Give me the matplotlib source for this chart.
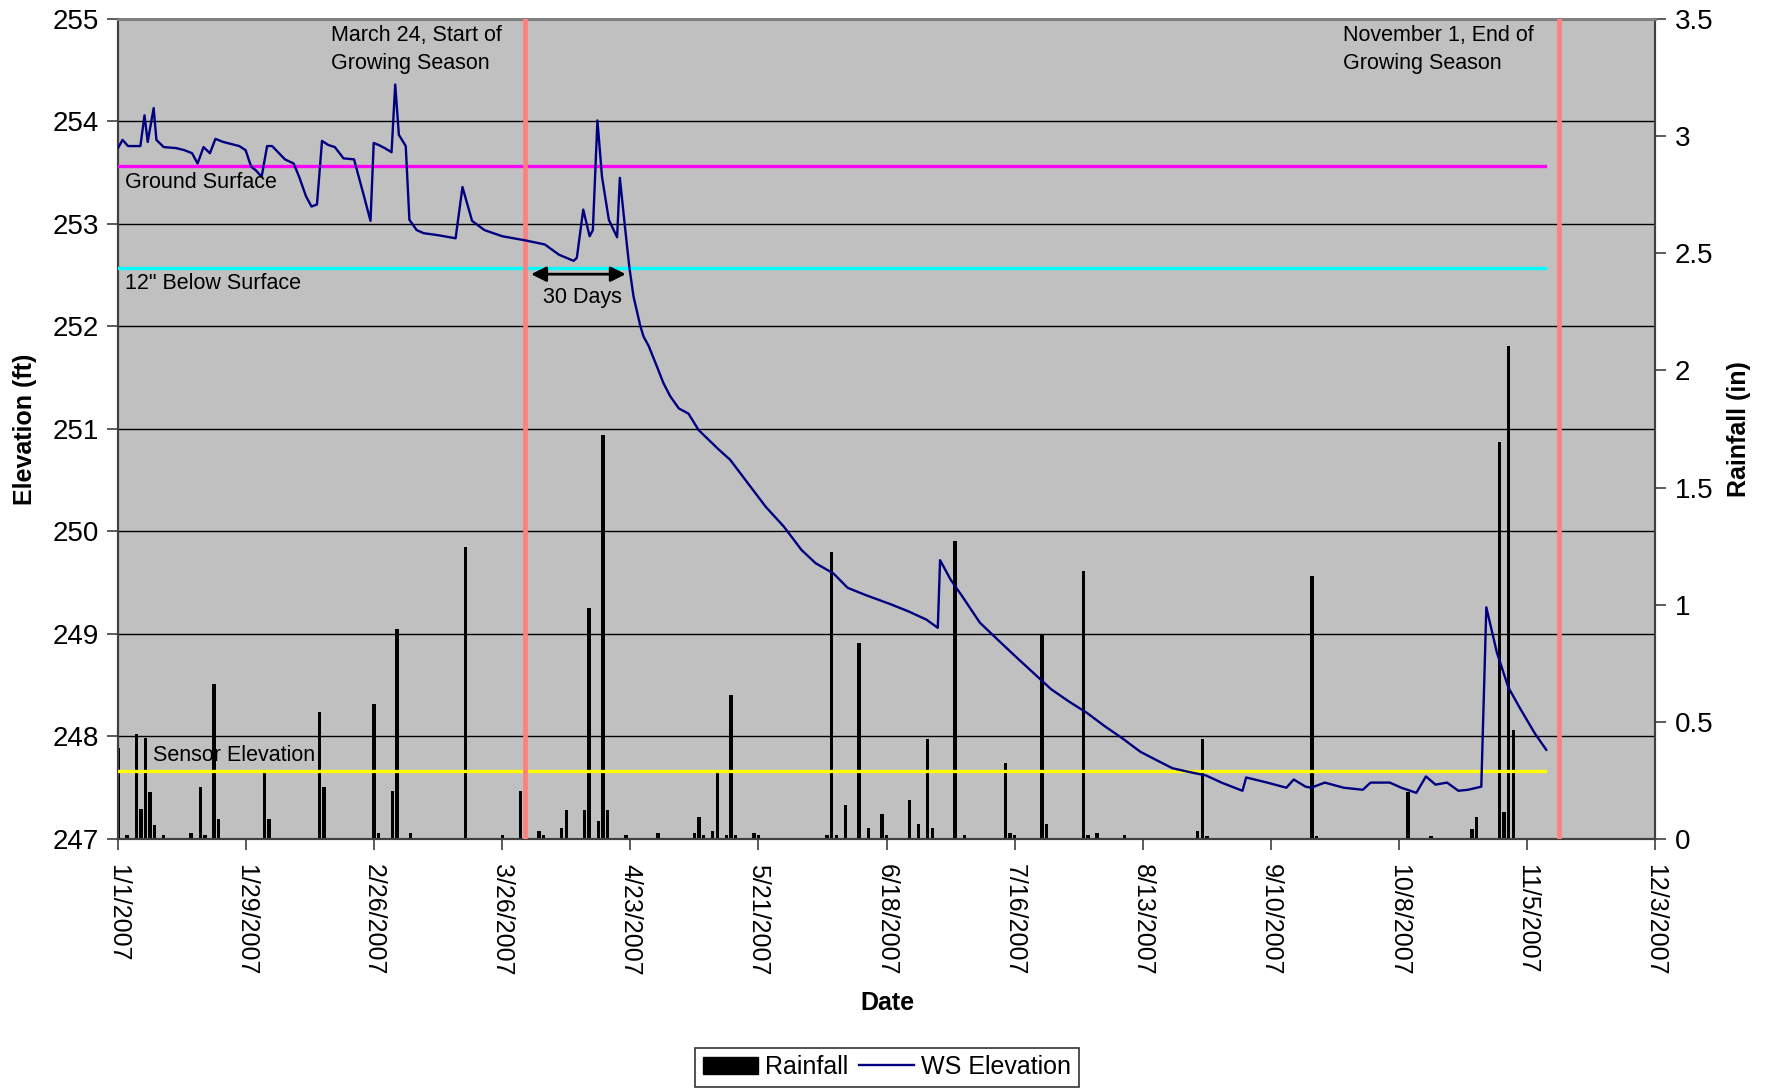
import matplotlib
matplotlib.use('Agg')
import matplotlib.pyplot as plt
from matplotlib.patches import Patch
from matplotlib.lines import Line2D

plt.rcParams['font.family'] = ['Liberation Sans', 'DejaVu Sans']

# ---------------- data (days since 1/1/2007) ----------------
tick_days = [0, 28, 56, 84, 112, 140, 168, 196, 224, 252, 280, 308, 336]
tick_labels = ["1/1/2007", "1/29/2007", "2/26/2007", "3/26/2007", "4/23/2007",
               "5/21/2007", "6/18/2007", "7/16/2007", "8/13/2007", "9/10/2007",
               "10/8/2007", "11/5/2007", "12/3/2007"]

ws_day = [0, 1, 2.2, 4.9, 5.8, 6.5, 7.8, 8.4, 10, 12.7, 14.5, 16.2, 17.4, 18.7, 20.1,
          21.3, 23, 24.8, 26.5, 27.9, 29.1, 30.2, 31.4, 32.6, 33.7, 35, 36.5, 38.4,
          39.6, 41.1, 42.3, 43.5, 44.6, 46, 47.4, 49.3, 51.6, 53.6, 55.2, 55.9, 57,
          58.3, 59.8, 60.6, 61.4, 62.9, 63.7, 65.3, 66.8, 70, 73.8, 75.3, 77.4, 80.1,
          84, 89, 93.3, 96.4, 99.6, 100.3, 101.7, 103.1, 103.8, 104.8, 105.8, 107.3,
          109.1, 109.7, 110.8, 111.8, 112.7, 114.2, 114.9, 116, 117.8, 119.2, 120.7,
          122.6, 124.7, 126.9, 129, 131.3, 133.8, 137.7, 141.6, 145.5, 149.4, 152.5,
          156.4, 159.5, 163.4, 168.9, 172.8, 176.7, 179.2, 179.7, 182, 184.5, 188.4,
          192.4, 196.2, 200.1, 204, 207.9, 211.8, 215.7, 219.6, 223.5, 227.4, 230.5,
          234.5, 237.8, 241.2, 245.8, 246.6, 251.2, 255.4, 257, 259.6, 260.8, 263.8,
          267.9, 272.1, 273.8, 278, 280.5, 283.8, 285.9, 288, 290.5, 293, 295.1, 298,
          299.1, 301.4, 303.9, 306.4, 309.7, 312.2]
ws_elev = [253.74, 253.82, 253.76, 253.76, 254.06, 253.80, 254.13, 253.82, 253.75,
           253.74, 253.72, 253.69, 253.59, 253.75, 253.69, 253.83, 253.80, 253.78,
           253.76, 253.72, 253.56, 253.52, 253.46, 253.76, 253.76, 253.70, 253.63,
           253.59, 253.46, 253.27, 253.17, 253.19, 253.81, 253.77, 253.75, 253.64,
           253.63, 253.30, 253.03, 253.79, 253.77, 253.74, 253.70, 254.36, 253.87,
           253.76, 253.04, 252.94, 252.91, 252.89, 252.86, 253.36, 253.03, 252.94,
           252.88, 252.84, 252.80, 252.70, 252.64, 252.67, 253.14, 252.88, 252.94,
           254.01, 253.46, 253.04, 252.87, 253.45, 252.98, 252.57, 252.29, 252.00,
           251.90, 251.81, 251.61, 251.45, 251.32, 251.20, 251.15, 250.99, 250.90,
           250.80, 250.70, 250.47, 250.24, 250.05, 249.82, 249.69, 249.59, 249.45,
           249.38, 249.29, 249.22, 249.14, 249.06, 249.72, 249.53, 249.37, 249.11,
           248.94, 248.78, 248.62, 248.46, 248.34, 248.23, 248.10, 247.98, 247.85,
           247.76, 247.69, 247.65, 247.62, 247.55, 247.47, 247.60, 247.55, 247.50,
           247.58, 247.51, 247.50, 247.55, 247.50, 247.48, 247.55, 247.55, 247.50,
           247.45, 247.61, 247.53, 247.55, 247.47, 247.48, 247.51, 249.26, 248.82,
           248.48, 248.28, 248.03, 247.87]

rain_day = [0, 2, 4, 5, 6, 7, 8, 10, 16, 18, 19, 21, 22, 32, 33, 44, 45, 56, 57, 60,
            61, 64, 76, 84, 88, 92, 93, 97, 98, 102, 103, 105, 106, 107, 111, 118,
            126, 127, 128, 130, 131, 133, 134, 135, 139, 140, 155, 156, 157, 159, 162,
            164, 167, 168, 173, 175, 177, 178, 183, 185, 194, 195, 196, 202, 203, 211,
            212, 214, 220, 236, 237, 238, 261, 262, 282, 287, 296, 297, 302, 303, 304,
            305]
rain_in = [0.39, 0.015, 0.45, 0.13, 0.43, 0.20, 0.06, 0.015, 0.025, 0.22, 0.015,
           0.66, 0.085, 0.29, 0.085, 0.54, 0.22, 0.575, 0.025, 0.205, 0.895, 0.025,
           1.245, 0.015, 0.205, 0.035, 0.015, 0.045, 0.125, 0.125, 0.984, 0.075,
           1.724, 0.125, 0.015, 0.025, 0.025, 0.095, 0.015, 0.035, 0.283, 0.015,
           0.614, 0.015, 0.025, 0.015, 0.015, 1.223, 0.015, 0.145, 0.835, 0.045,
           0.105, 0.015, 0.166, 0.064, 0.425, 0.045, 1.273, 0.015, 0.323, 0.025,
           0.015, 0.873, 0.064, 1.144, 0.015, 0.025, 0.015, 0.033, 0.426, 0.013,
           1.123, 0.012, 0.202, 0.012, 0.043, 0.094, 1.693, 0.115, 2.104, 0.465]

ground_surface = 253.57
below_12in = 252.57
sensor_elev = 247.66
ref_end_day = 312
season_start_day = 89
season_end_day = 315

# ---------------- figure ----------------
fig = plt.figure(figsize=(17.74, 10.89), dpi=100)
ax = fig.add_axes([0.0665, 0.2296, 0.8665, 0.753])
ax2 = ax.twinx()
ax.set_zorder(2)
ax2.set_zorder(1)
ax.patch.set_visible(False)
ax2.patch.set_visible(True)
ax2.patch.set_facecolor('#C0C0C0')

# rainfall bars (secondary axis)
ax2.bar(rain_day, rain_in, width=0.75, color='black', align='center', zorder=2)
ax2.set_ylim(0, 3.5)
ax2.set_yticks([0, 0.5, 1, 1.5, 2, 2.5, 3, 3.5])
ax2.set_yticklabels(['0', '0.5', '1', '1.5', '2', '2.5', '3', '3.5'])

# elevation
ax.set_xlim(0, 336)
ax.set_ylim(247, 255)
ax.set_yticks(range(247, 256))
ax.yaxis.grid(True, color='black', lw=1.0, zorder=0)
ax.set_axisbelow(True)

ax.plot([0, ref_end_day], [ground_surface] * 2, color='#FF00FF', lw=2.4, zorder=3)
ax.plot([0, ref_end_day], [below_12in] * 2, color='#00FFFF', lw=2.4, zorder=3)
ax.plot([0, ref_end_day], [sensor_elev] * 2, color='#FFFF00', lw=2.4, zorder=3)
ax.axvline(season_start_day, color='#FF8080', lw=3.4, zorder=4)
ax.axvline(season_end_day, color='#FF8080', lw=3.4, zorder=4)
ax.plot(ws_day, ws_elev, color='#000080', lw=1.7, zorder=5)

# annotations
ax.text(46.5, 254.94, "March 24, Start of\nGrowing Season", ha='left', va='top',
        fontsize=15.5, linespacing=1.42, zorder=6)
ax.text(267.7, 254.94, "November 1, End of\nGrowing Season", ha='left', va='top',
        fontsize=15.5, linespacing=1.42, zorder=6)
ax.text(1.5, 253.40, "Ground Surface", ha='left', va='center', fontsize=15.5, zorder=6)
ax.text(1.5, 252.42, '12" Below Surface', ha='left', va='center', fontsize=15.5, zorder=6)
ax.text(7.6, 247.81, "Sensor Elevation", ha='left', va='center', fontsize=15.5, zorder=6)
ax.annotate('', xy=(90.3, 252.51), xytext=(111.0, 252.51),
            arrowprops=dict(arrowstyle='<|-|>,head_length=0.9,head_width=0.45',
                            color='black', lw=2, shrinkA=0, shrinkB=0), zorder=6)
ax.text(101.6, 252.28, "30 Days", ha='center', va='center', fontsize=15.5, zorder=6)

# ticks
ax.set_xticks(tick_days)
ax.set_xticklabels(tick_labels, rotation=-90, ha='center', va='top')
for a in (ax, ax2):
    a.tick_params(direction='out', length=8, width=1.2, color='#404040',
                  labelsize=20, pad=6)
ax.tick_params(axis='x', pad=10, labelsize=18)

for a in (ax, ax2):
    for s in ('left', 'right', 'bottom'):
        a.spines[s].set_color('#404040')
        a.spines[s].set_linewidth(1.5)
    a.spines['top'].set_color('#808080')
    a.spines['top'].set_linewidth(2)

fig.text(0.014, 0.606, "Elevation (ft)", rotation=90, ha='center', va='center',
         fontsize=18, fontweight='bold')
fig.text(0.980, 0.606, "Rainfall (in)", rotation=90, ha='center', va='center',
         fontsize=18, fontweight='bold')
fig.text(0.5, 0.079, "Date", ha='center', va='center', fontsize=18, fontweight='bold')

handles = [Patch(facecolor='black', edgecolor='black'),
           Line2D([0], [0], color='#000080', lw=1.7)]
leg = fig.legend(handles, ['Rainfall', 'WS Elevation'], loc='center',
                 bbox_to_anchor=(0.5, 0.020), ncol=2, frameon=True, fancybox=False,
                 edgecolor='black', fontsize=18, handlelength=2.2, handletextpad=0.3,
                 columnspacing=0.4, borderpad=0.3)
leg.get_frame().set_linewidth(1.2)

fig.savefig('out.png', dpi=100)
